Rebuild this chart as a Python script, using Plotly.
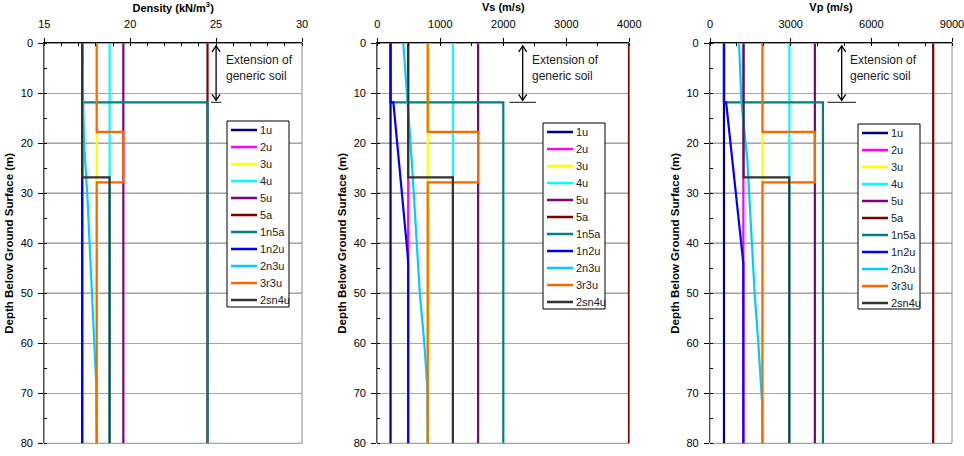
import plotly.graph_objects as go

# ---------------- data ----------------
SERIES = ["1u", "2u", "3u", "4u", "5u", "5a", "1n5a", "1n2u", "2n3u", "3r3u", "2sn4u"]
COLORS = ["#000080", "#FF00FF", "#FFFF00", "#00FFFF", "#800080", "#800000",
          "#008080", "#0000FF", "#00CCFF", "#FF6600", "#333333"]

# depth (m) break points
depth_const = [0, 80]
depth_1n5a = [0, 11.8, 11.8, 80]
depth_3r3u = [0, 17.7, 17.7, 27.8, 27.8, 80]
depth_2sn4u = [0, 26.8, 26.8, 80]
depth_1n2u_vs = [0, 11.8, 11.8, 38, 42, 44, 80]
depth_1n2u_vp = [0, 11.8, 11.8, 42, 44, 80]
depth_2n3u_rho = [0, 11.8, 20, 30, 50, 57, 65, 68, 80]
depth_2n3u_vs = [0, 11.8, 23.3, 50, 60, 69, 80]
depth_2n3u_vp = [0, 11.8, 23.3, 50, 60, 72, 80]

# Density (kN/m3)
rho_1u = [17.2, 17.2]
rho_2u = [17.2, 17.2]
rho_3u = [18.05, 18.05]
rho_4u = [18.8, 18.8]
rho_5u = [19.6, 19.6]
rho_5a = [24.5, 24.5]
rho_1n5a = [17.2, 17.2, 24.5, 24.5]
rho_1n2u = [17.2, 17.2]
rho_2n3u = [17.2, 17.25, 17.31, 17.5, 17.78, 17.85, 17.95, 18.02, 18.05]
rho_3r3u = [18.05, 18.05, 19.6, 19.6, 18.05, 18.05]
rho_2sn4u = [17.2, 17.2, 18.8, 18.8]

# Vs (m/s)
vs_1u = [210, 210]
vs_2u = [490, 490]
vs_3u = [800, 800]
vs_4u = [1200, 1200]
vs_5u = [1600, 1600]
vs_5a = [3995, 3995]
vs_1n5a = [210, 210, 2000, 2000]
vs_1n2u = [210, 210, 255, 456, 480, 490, 490]
vs_2n3u = [413, 478, 546, 675, 746, 795, 800]
vs_3r3u = [800, 800, 1600, 1600, 800, 800]
vs_2sn4u = [490, 490, 1200, 1200]

# Vp (m/s)
vp_1u = [520, 520]
vp_2u = [1240, 1240]
vp_3u = [1950, 1950]
vp_4u = [2950, 2950]
vp_5u = [3900, 3900]
vp_5a = [8300, 8300]
vp_1n5a = [520, 520, 4200, 4200]
vp_1n2u = [520, 520, 600, 1200, 1240, 1240]
vp_2n3u = [1080, 1170, 1388, 1660, 1797, 1940, 1950]
vp_3r3u = [1950, 1950, 3900, 3900, 1950, 1950]
vp_2sn4u = [1250, 1250, 2950, 2950]

rho_depths = [depth_const] * 6 + [depth_1n5a, depth_const, depth_2n3u_rho, depth_3r3u, depth_2sn4u]
rho_vals = [rho_1u, rho_2u, rho_3u, rho_4u, rho_5u, rho_5a, rho_1n5a, rho_1n2u, rho_2n3u, rho_3r3u, rho_2sn4u]
vs_depths = [depth_const] * 6 + [depth_1n5a, depth_1n2u_vs, depth_2n3u_vs, depth_3r3u, depth_2sn4u]
vs_vals = [vs_1u, vs_2u, vs_3u, vs_4u, vs_5u, vs_5a, vs_1n5a, vs_1n2u, vs_2n3u, vs_3r3u, vs_2sn4u]
vp_depths = [depth_const] * 6 + [depth_1n5a, depth_1n2u_vp, depth_2n3u_vp, depth_3r3u, depth_2sn4u]
vp_vals = [vp_1u, vp_2u, vp_3u, vp_4u, vp_5u, vp_5a, vp_1n5a, vp_1n2u, vp_2n3u, vp_3r3u, vp_2sn4u]

X_TITLES = ["<b>Density (kN/m<sup>3</sup>)</b>", "<b>Vs (m/s)</b>", "<b>Vp (m/s)</b>"]
X_RANGES = [[15, 30], [0, 4000], [0, 9000]]
X_DTICK = [5, 1000, 3000]
X_MINOR = [1, 500, 1000]
Y_TITLE = "<b>Depth Below Ground Surface (m)</b>"
DARK_GRID = [20, 30, 40, 50]
GENERIC_DEPTH = 11.8
NOTE = "Extension of<br>generic soil"

# ---------------- layout helpers ----------------
W, H = 964, 456
FONT = "Arial, 'Liberation Sans', sans-serif"
px_x = [(44.3, 302.0), (377.3, 629.3), (710.0, 952.0)]
top_px, bot_px = 43.3, 443.3
ydom = [1 - bot_px / H, 1 - top_px / H]

fig = go.Figure()
panels = [(rho_depths, rho_vals), (vs_depths, vs_vals), (vp_depths, vp_vals)]

for p, (depths, vals) in enumerate(panels):
    xa = "x" if p == 0 else f"x{p+1}"
    ya = "y" if p == 0 else f"y{p+1}"
    for name, color, d, v in zip(SERIES, COLORS, depths, vals):
        fig.add_trace(go.Scatter(
            x=v, y=d, mode="lines", name=name,
            line=dict(color=color, width=2.2),
            xaxis=xa, yaxis=ya, showlegend=False,
            hoverinfo="name+x+y"))

layout = dict(width=W, height=H, margin=dict(l=0, r=0, t=0, b=0),
              autosize=False, plot_bgcolor="white", paper_bgcolor="white",
              font=dict(family=FONT, size=11, color="black"), showlegend=False)

shapes = []
annotations = []
# arrow / note positions per panel in data units
arrow_x = [25.0, 2308, 4898]
bar_half = [0.3, 210, 530]
note_x = [25.45, 2423, 5143]

for p in range(3):
    sfx = "" if p == 0 else str(p + 1)
    x0, x1 = px_x[p]
    layout["xaxis" + sfx] = dict(
        domain=[x0 / W, x1 / W], anchor="y" + sfx, side="top", automargin=False,
        range=X_RANGES[p], dtick=X_DTICK[p], tick0=X_RANGES[p][0],
        showline=True, linecolor="black", linewidth=1,
        ticks="outside", ticklen=4, tickcolor="black", ticklabelstandoff=6,
        ticklabeloverflow="allow",
        minor=dict(dtick=X_MINOR[p], ticks="inside", ticklen=3, tickcolor="black"),
        showgrid=False, zeroline=False,
        tickfont=dict(size=11),
        title=dict(text=X_TITLES[p], font=dict(size=11), standoff=4))
    layout["yaxis" + sfx] = dict(
        domain=ydom, anchor="x" + sfx, range=[80, 0], dtick=10, tick0=0, automargin=False,
        showline=True, linecolor="#505050", linewidth=1.2,
        ticks="outside", ticklen=5, tickcolor="black", ticklabelstandoff=3,
        minor=dict(dtick=5, ticks="inside", ticklen=3, tickcolor="black"),
        showgrid=True, gridcolor="#A6A6A6", gridwidth=1, zeroline=False,
        tickfont=dict(size=11),
        title=dict(text=Y_TITLE, font=dict(size=11.5), standoff=4))
    # grey frame (right / bottom)
    shapes.append(dict(type="rect", xref=f"x{sfx} domain", yref=f"y{sfx} domain",
                       x0=0, x1=1, y0=0, y1=1, line=dict(color="#8C8C8C", width=1),
                       layer="below"))
    for g in DARK_GRID:
        shapes.append(dict(type="line", xref=f"x{sfx} domain", yref="y" + sfx,
                           x0=0, x1=1, y0=g, y1=g, line=dict(color="black", width=1),
                           layer="below"))
    # double-headed arrow marking the generic soil extension
    shapes.append(dict(type="line", xref="x" + sfx, yref="y" + sfx,
                       x0=arrow_x[p], x1=arrow_x[p], y0=0.5, y1=GENERIC_DEPTH - 0.4,
                       line=dict(color="black", width=1.3)))
    for tip_y, sign in [(0.5, -1), (GENERIC_DEPTH - 0.4, 1)]:
        shapes.append(dict(type="path", xref="x" + sfx, yref="y" + sfx,
                           xsizemode="pixel", ysizemode="pixel",
                           xanchor=arrow_x[p], yanchor=tip_y,
                           path=f"M-4,{6 * sign} L0,0 L4,{6 * sign}",
                           line=dict(color="black", width=1.3)))
    # bar at base of arrow
    shapes.append(dict(type="line", xref="x" + sfx, yref="y" + sfx,
                       x0=arrow_x[p] - bar_half[p], x1=arrow_x[p] + bar_half[p],
                       y0=GENERIC_DEPTH, y1=GENERIC_DEPTH,
                       line=dict(color="#404040", width=1.2)))
    annotations.append(dict(xref="x" + sfx, yref="y" + sfx, x=note_x[p], y=5.0,
                            xanchor="left", yanchor="middle", align="left",
                            text=NOTE, showarrow=False,
                            font=dict(size=12, color="#1a1a1a")))

# hand-built legend boxes (one per panel)
leg_pos = [(227, 121, 289, 307), (543, 123, 605, 309), (858, 124, 920, 309)]
LEG_STEP = 17.0
for p in range(3):
    lx0, ly0, lx1, ly1 = leg_pos[p]
    shapes.append(dict(type="rect", xref="paper", yref="paper",
                       x0=lx0 / W, x1=lx1 / W, y0=1 - ly1 / H, y1=1 - ly0 / H,
                       fillcolor="white", line=dict(color="black", width=1), layer="above"))
    for i, (name, color) in enumerate(zip(SERIES, COLORS)):
        yy = 1 - (ly0 + 9 + i * LEG_STEP) / H
        shapes.append(dict(type="line", xref="paper", yref="paper",
                           x0=(lx0 + 4) / W, x1=(lx0 + 30) / W, y0=yy, y1=yy,
                           line=dict(color=color, width=2.5), layer="above"))
        annotations.append(dict(xref="paper", yref="paper", x=(lx0 + 31) / W, y=yy,
                                xanchor="left", yanchor="middle", text=name,
                                showarrow=False, font=dict(size=11, color="#222222")))

layout["shapes"] = shapes
layout["annotations"] = annotations
fig.update_layout(**layout)
fig.write_html("out.html")
